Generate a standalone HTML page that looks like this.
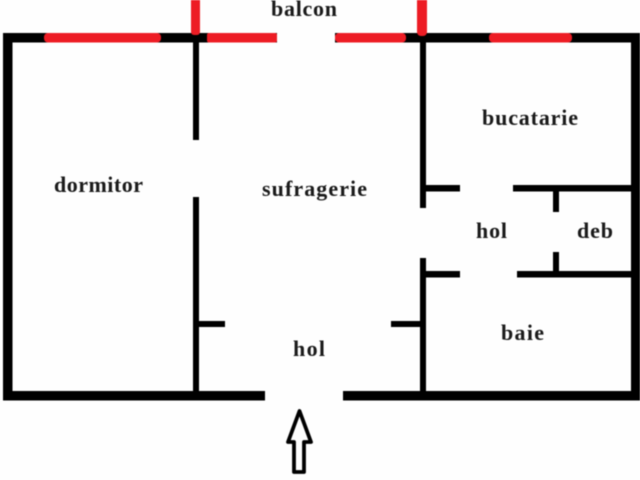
<!DOCTYPE html>
<html>
<head>
<meta charset="utf-8">
<style>
html,body{margin:0;padding:0;background:#fff;width:640px;height:480px;overflow:hidden}
svg{display:block;filter:blur(0.45px)}
text{font-family:"Liberation Serif",serif;font-weight:bold;font-size:22px;fill:#1a1a1a}
</style>
</head>
<body>
<svg width="640" height="480" viewBox="0 0 640 480" xmlns="http://www.w3.org/2000/svg">
<rect width="640" height="480" fill="#fefefe"/>
<g fill="#000">
<rect x="3" y="33" width="637" height="9.5"/>
<rect x="3" y="33" width="9.5" height="367.5"/>
<rect x="631" y="33" width="9" height="367.5"/>
<rect x="3" y="391" width="262" height="9.5"/>
<rect x="343" y="391" width="297" height="9.5"/>
<rect x="193" y="42" width="6" height="98"/>
<rect x="193" y="197" width="6" height="194"/>
<rect x="420" y="42" width="6" height="166"/>
<rect x="420" y="258" width="6" height="133"/>
<rect x="426" y="185" width="34" height="6.5"/>
<rect x="513" y="185" width="118" height="6.5"/>
<rect x="553" y="191" width="6" height="21"/>
<rect x="426" y="271" width="34" height="6.5"/>
<rect x="517" y="271" width="114" height="6.5"/>
<rect x="553" y="252" width="6" height="19"/>
<rect x="199" y="321" width="26" height="6"/>
<rect x="391" y="321" width="29" height="6"/>
</g>
<rect x="277" y="32" width="58" height="12" fill="#fefefe"/>
<g fill="#ed1c24">
<rect x="44" y="33" width="117" height="9.5" rx="4"/>
<rect x="207" y="33" width="70" height="9.5" rx="2"/>
<rect x="335" y="33" width="71" height="9.5" rx="4"/>
<rect x="489" y="33" width="83" height="9.5" rx="4"/>
<rect x="191" y="-6" width="9" height="41" rx="3"/>
<rect x="417" y="-6" width="10" height="42" rx="4"/>
</g>
<path d="M299.500 411 L311 442 L304 442 L304 472 L294 472 L294 442 L288 442 Z" fill="none" stroke="#000" stroke-width="3.800" stroke-linejoin="round"/>
<text x="271" y="16" textLength="66" lengthAdjust="spacing">balcon</text>
<text x="54" y="192" textLength="89" lengthAdjust="spacing">dormitor</text>
<text x="262" y="196" textLength="105" lengthAdjust="spacing">sufragerie</text>
<text x="482" y="125" textLength="96" lengthAdjust="spacing">bucatarie</text>
<text x="476" y="238" textLength="31" lengthAdjust="spacing">hol</text>
<text x="577" y="238" textLength="36" lengthAdjust="spacing">deb</text>
<text x="501" y="340" textLength="43" lengthAdjust="spacing">baie</text>
<text x="293" y="356" textLength="32" lengthAdjust="spacing">hol</text>
</svg>
</body>
</html>
